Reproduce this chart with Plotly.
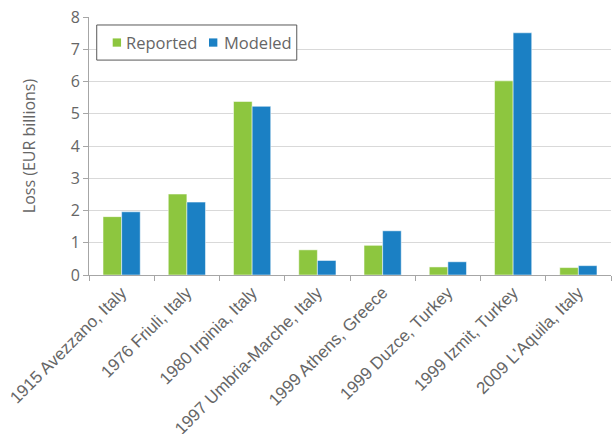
import plotly.graph_objects as go

categories = ["1915 Avezzano, Italy", "1976 Friuli, Italy", "1980 Irpinia, Italy",
              "1997 Umbria-Marche, Italy", "1999 Athens, Greece", "1999 Duzce, Turkey",
              "1999 Izmit, Turkey", "2009 L'Aquila, Italy"]
reported = [1.81, 2.51, 5.38, 0.78, 0.92, 0.25, 6.02, 0.23]
modeled = [1.96, 2.26, 5.23, 0.45, 1.37, 0.41, 7.51, 0.29]
series_names = ["Reported", "Modeled"]
series_colors = ["#8DC63F", "#1B80C4"]

fig = go.Figure()
for name, vals, col in zip(series_names, [reported, modeled], series_colors):
    fig.add_bar(x=categories, y=vals, name=name, showlegend=False,
                marker=dict(color=col, line=dict(color="#ffffff", width=0.5)))

# custom legend (box, swatches, labels) in paper coordinates
fig.add_shape(type="rect", xref="paper", yref="paper", x0=0.0148, x1=0.398, y0=0.833, y1=0.969,
              line=dict(color="#595959", width=1), fillcolor="white", layer="above")
swatch_x = [0.0454, 0.2299]
label_x = [0.0670, 0.2542]
for name, col, sx, lx in zip(series_names, series_colors, swatch_x, label_x):
    fig.add_shape(type="rect", xref="paper", yref="paper", x0=sx, x1=sx + 0.0160,
                  y0=0.885, y1=0.917, line=dict(width=0), fillcolor=col, layer="above")
    fig.add_annotation(xref="paper", yref="paper", x=lx, y=0.901, xanchor="left", yanchor="middle",
                       showarrow=False, text=name,
                       font=dict(family="Open Sans, sans-serif", size=16.5, color="#666666"))

fig.update_layout(
    width=613, height=434,
    margin=dict(l=89, r=2, t=17, b=159),
    paper_bgcolor="white", plot_bgcolor="white",
    barmode="group", bargap=0.43, bargroupgap=0,
    font=dict(family="Open Sans, Noto Sans, sans-serif", color="#595959", size=15),
)
fig.update_yaxes(range=[0, 8], dtick=1, showgrid=True, gridcolor="#d9d9d9", gridwidth=1,
                 showline=True, linecolor="#a6a6a6", linewidth=1,
                 ticks="outside", ticklen=5, tickcolor="#a6a6a6",
                 tickfont=dict(size=16, color="#666666"),
                 title=dict(text="Loss (EUR billions)", font=dict(size=16, color="#666666"), standoff=31),
                 automargin=False, zeroline=False)
fig.update_xaxes(showline=True, linecolor="#a6a6a6", linewidth=1,
                 ticks="outside", ticklen=5, tickcolor="#a6a6a6", tickson="boundaries",
                 tickangle=-45,
                 tickfont=dict(family="Liberation Sans, Arial, sans-serif", size=17, color="#666666"),
                 automargin=False)

fig.write_html("out.html", config={"displayModeBar": False},
               post_script="document.body.style.margin='0';")
